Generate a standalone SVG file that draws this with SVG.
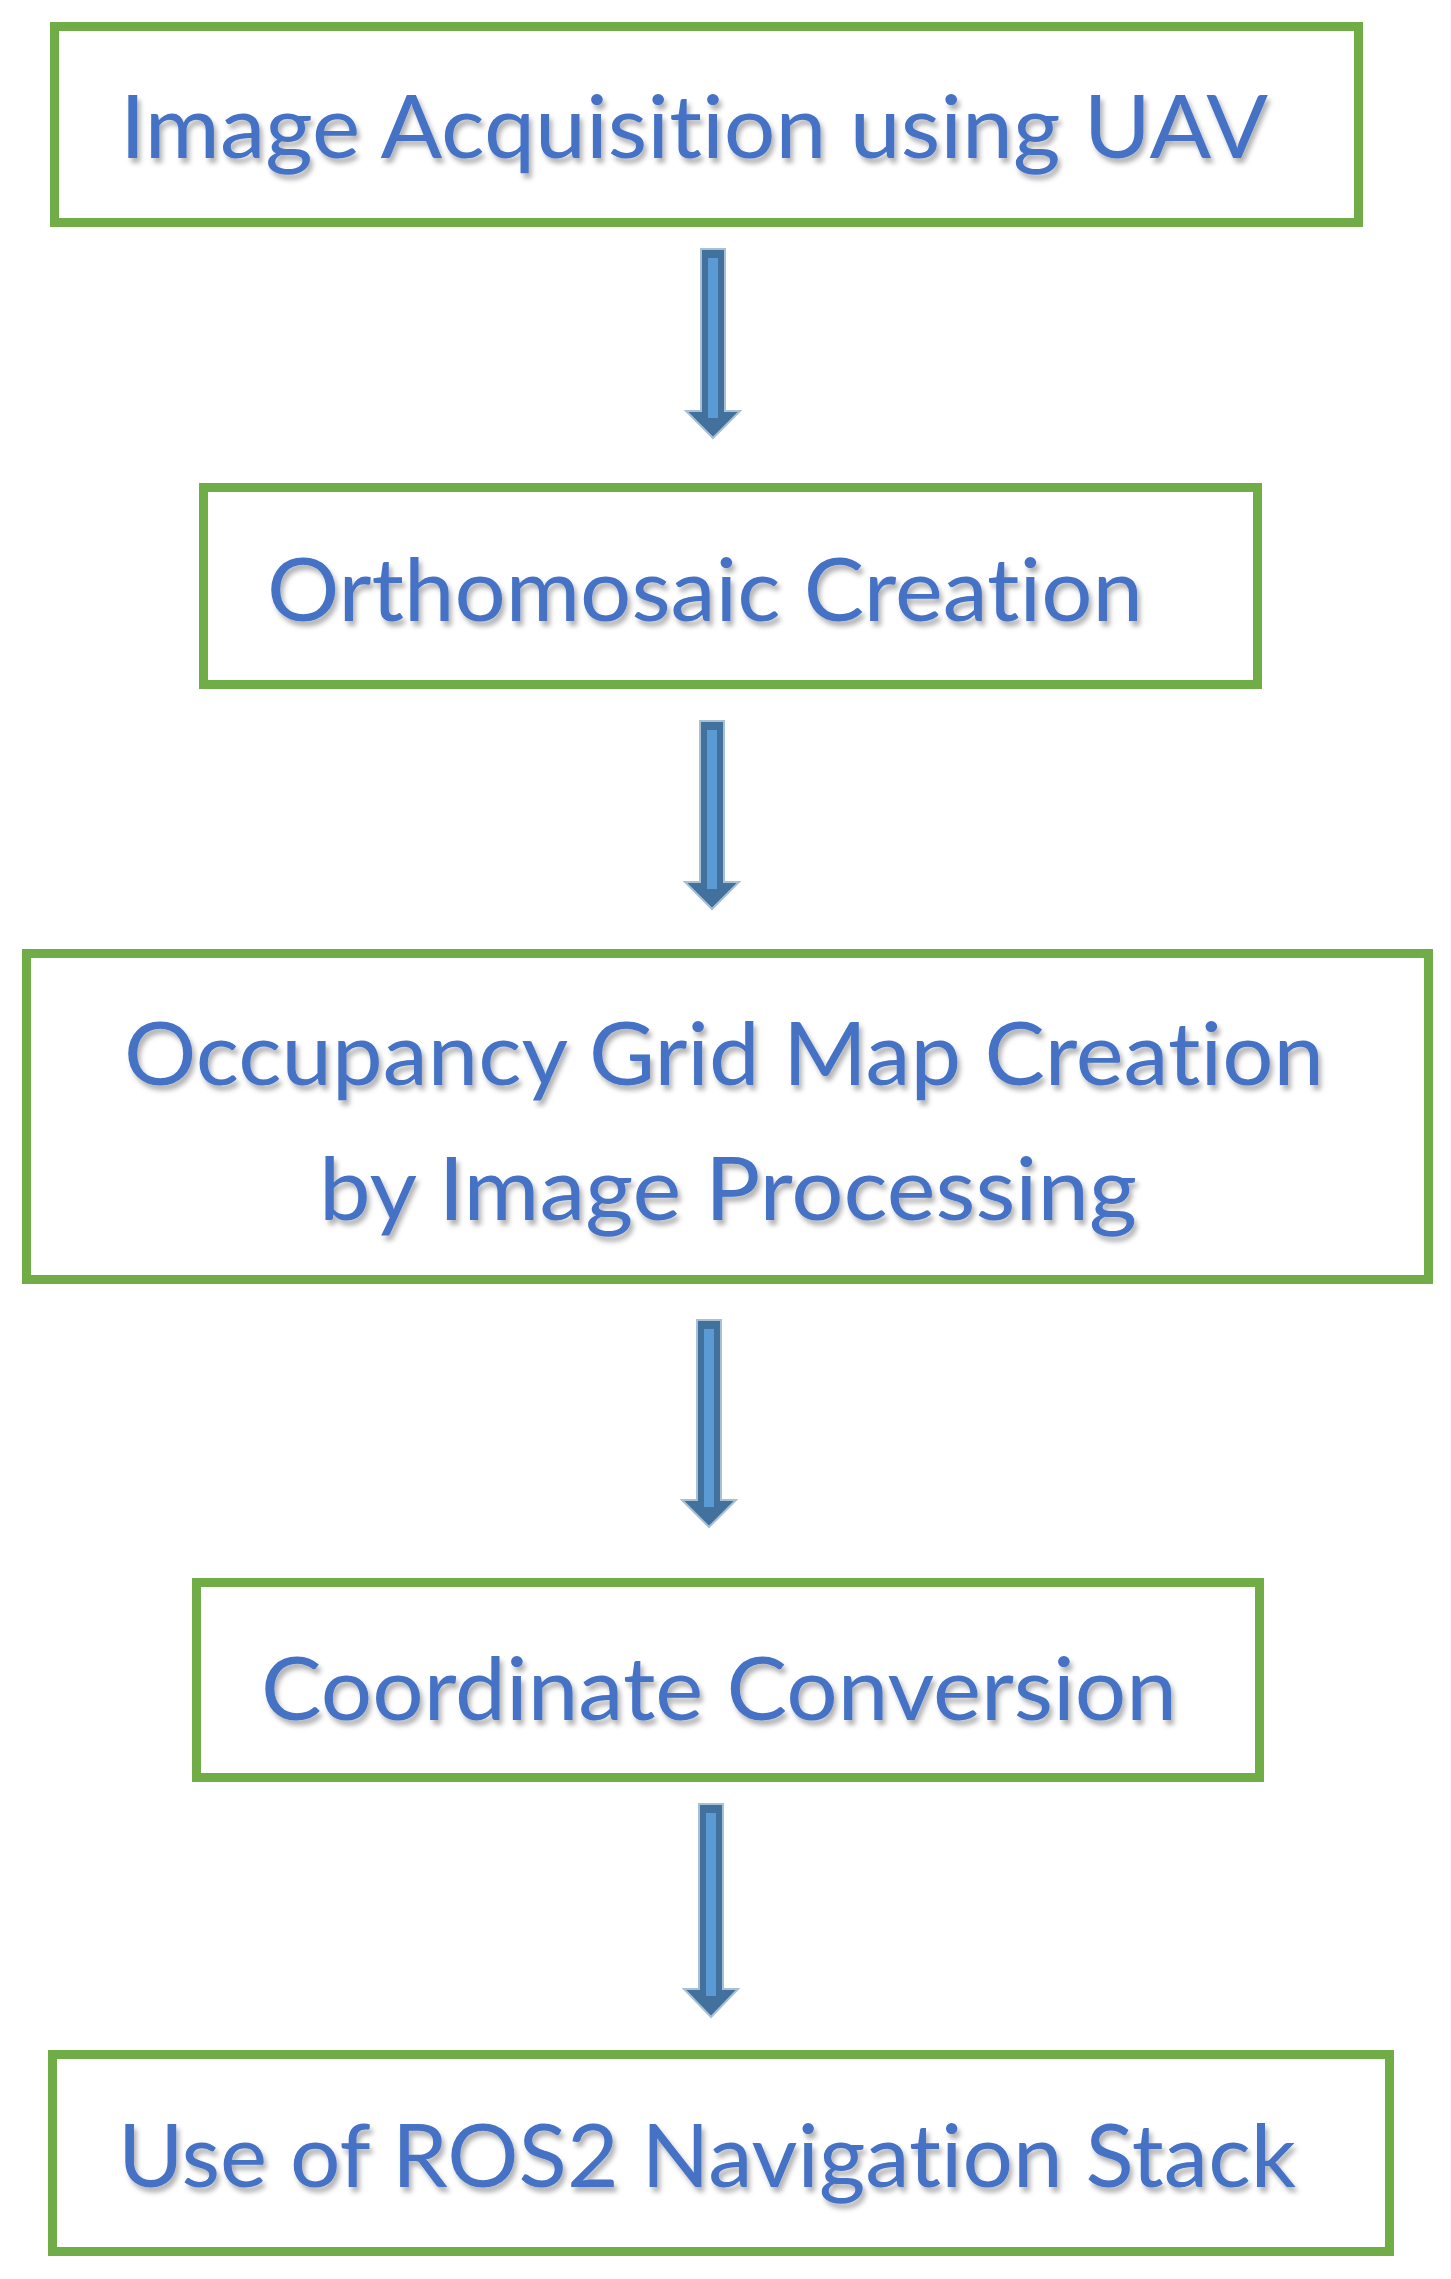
<svg xmlns="http://www.w3.org/2000/svg" width="1451" height="2279" viewBox="0 0 1451 2279">
  <defs>
    <filter id="shadow" x="-5%" y="-20%" width="110%" height="150%">
      <feDropShadow dx="3" dy="5" stdDeviation="2.5" flood-color="#000000" flood-opacity="0.3"/>
    </filter>
    <style>
      .box { fill: #FFFFFF; stroke: #70AD47; stroke-width: 9; }
      .lbl { font-family: "Lato", "Open Sans", "Liberation Sans", sans-serif; font-size: 88px; fill: #4472C4; filter: url(#shadow); font-variant-ligatures: none; font-feature-settings: "liga" 0, "clig" 0; }
      .shaft { fill: #41719C; stroke: #A9BFD4; stroke-width: 2; stroke-linejoin: miter; }
      .stripe { fill: #5B9BD5; }
    </style>
  </defs>
  <rect width="1451" height="2279" fill="#FFFFFF"/>

  <g id="connectors">
    <g id="arrow1">
      <path class="shaft" d="M701,249 H725 V411 H740 L713,438 L686,411 H701 Z"/>
      <rect class="stripe" x="708" y="258" width="10" height="160"/>
    </g>
    <g id="arrow2">
      <path class="shaft" d="M700,721 H724 V882 H739 L712,909 L685,882 H700 Z"/>
      <rect class="stripe" x="707" y="730" width="10" height="159"/>
    </g>
    <g id="arrow3">
      <path class="shaft" d="M697,1320 H721 V1500 H736 L709,1527 L682,1500 H697 Z"/>
      <rect class="stripe" x="704" y="1329" width="10" height="178"/>
    </g>
    <g id="arrow4">
      <path class="shaft" d="M699,1804 H723 V1989 H738 L711,2017 L684,1989 H699 Z"/>
      <rect class="stripe" x="706" y="1813" width="10" height="183"/>
    </g>
  </g>

  <g id="node1">
    <rect class="box" x="54.5" y="26.5" width="1304" height="196"/>
    <text class="lbl" x="120" y="158" textLength="1148" lengthAdjust="spacingAndGlyphs">Image Acquisition using UAV</text>
  </g>
  <g id="node2">
    <rect class="box" x="203.5" y="487.5" width="1054" height="197"/>
    <text class="lbl" x="267" y="621" textLength="876" lengthAdjust="spacingAndGlyphs">Orthomosaic Creation</text>
  </g>
  <g id="node3">
    <rect class="box" x="26.5" y="953.5" width="1402" height="326"/>
    <text class="lbl" x="124" y="1085" textLength="1200" lengthAdjust="spacingAndGlyphs">Occupancy Grid Map Creation</text>
    <text class="lbl" x="319" y="1220" textLength="818" lengthAdjust="spacingAndGlyphs">by Image Processing</text>
  </g>
  <g id="node4">
    <rect class="box" x="196.5" y="1582.5" width="1063" height="195"/>
    <text class="lbl" x="261" y="1720" textLength="916" lengthAdjust="spacingAndGlyphs">Coordinate Conversion</text>
  </g>
  <g id="node5">
    <rect class="box" x="52.5" y="2054.5" width="1337" height="197"/>
    <text class="lbl" x="118" y="2187" textLength="1178" lengthAdjust="spacingAndGlyphs">Use of ROS2 Navigation Stack</text>
  </g>
</svg>
